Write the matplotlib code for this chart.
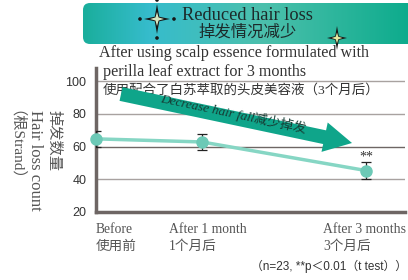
import numpy as np
import matplotlib
matplotlib.use("Agg")
import matplotlib.pyplot as plt
from matplotlib.colors import LinearSegmentedColormap
from matplotlib.patches import FancyBboxPatch, FancyArrow, Polygon, Circle

# data
x_pos = [0, 1, 2.55]
labels = ["Before\n使用前", "After 1 month\n1个月后", "After 3 months\n3个月后"]
hair_loss = [64.7, 62.8, 45.3]
errors = [5.0, 4.9, 5.0]
y_ticks = [20, 40, 60, 80, 100]

SERIF = ["Liberation Serif", "Noto Sans CJK SC"]
SANS = ["Liberation Sans", "Noto Sans CJK SC"]
W, H = 408, 280

fig = plt.figure(figsize=(W / 100, H / 100), dpi=100)
fig.patch.set_facecolor("white")

# main plot, pixel box: x 96..405, y 68..212
ax = fig.add_axes([96 / W, 1 - 212 / H, 309 / W, 144 / H])
ax.set_xlim(0, 2.915)
ax.set_ylim(20, 108)
for s in ["top", "right"]:
    ax.spines[s].set_visible(False)
for s in ["left", "bottom"]:
    ax.spines[s].set_color("#6e6664")
    ax.spines[s].set_linewidth(2.5)
ax.set_yticks(y_ticks)
ax.set_yticklabels([str(v) for v in y_ticks], family=SANS, fontsize=9, color="#333333")
ax.tick_params(axis="y", length=0, pad=7)
ax.set_xticks([])
for v in [40, 80, 100]:
    ax.axhline(v, color="#a8a2a0", lw=1.0, zorder=1)
ax.axhline(60, color="#6e6664", lw=1.0, zorder=1)

ax.plot(x_pos, hair_loss, color="#86d6c4", lw=2.5, zorder=3)
ax.errorbar(x_pos, hair_loss, yerr=errors, fmt="none", ecolor="#222222",
            elinewidth=0.9, capsize=3.5, capthick=0.9, zorder=4)
ax.plot(x_pos, hair_loss, "o", ms=8, color="#6cc9b6", zorder=5, clip_on=False)
ax.text(x_pos[2], hair_loss[2] + errors[2] + 3.5, "**", ha="center", va="center",
        family=SERIF, fontsize=10, color="#333333")

label_shift = [0, 4, -1]
for i, (xp, lab) in enumerate(zip(x_pos, labels)):
    ax.annotate(lab, (xp, -0.075), xycoords=ax.get_xaxis_transform(),
                xytext=(label_shift[i], 0), textcoords="offset points",
                ha="left" if i == 0 else "center", va="top", multialignment="left",
                family=SERIF, fontsize=9.8, color="#555555", linespacing=1.4)

# decoration layer in pixel coordinates
deco = fig.add_axes([0, 0, 1, 1], facecolor="none")
deco.set_zorder(2)
deco.axis("off")

# gradient banner
cmap = LinearSegmentedColormap.from_list(
    "banner", [(0, "#1aae9c"), (0.2, "#36bccc"), (0.55, "#4cc0ac"), (1, "#0cab8c")])
grad = np.linspace(0, 1, 256).reshape(1, -1)
img = deco.imshow(grad, cmap=cmap, extent=[83, 412, 44, 3], aspect="auto", zorder=1)
box = FancyBboxPatch((83, 3), 340, 41, boxstyle="round,pad=0,rounding_size=7",
                     facecolor="none", edgecolor="none", transform=deco.transData)
deco.add_patch(box)
img.set_clip_path(box)
deco.set_xlim(0, W)
deco.set_ylim(H, 0)


def star(cx, cy, rx, ry, r_in, fc):
    pts = []
    for k in range(8):
        a = np.pi / 4 * k
        if k % 2 == 0:
            pts.append((cx + rx * np.cos(a), cy + ry * np.sin(a)))
        else:
            pts.append((cx + r_in * np.cos(a), cy + r_in * np.sin(a)))
    deco.add_patch(Polygon(pts, closed=True, facecolor=fc, edgecolor="none", zorder=3))


star(157, 19, 13, 15, 3.2, "#151515")
star(157, 19, 7, 7, 2.2, "#d6e6c0")
for dx, dy in [(-17, 0), (17, 0), (0, -19), (0, 19)]:
    deco.add_patch(Circle((157 + dx, 19 + dy), 1.1, color="#151515", zorder=3))
star(337, 38, 10, 12, 2.6, "#151515")
star(337, 38, 5.5, 5.5, 1.8, "#e4eaa0")

deco.text(247, 16, "Reduced hair loss", ha="center", va="center",
          family=SERIF, fontsize=13.2, color="#1c2a2a", zorder=4)
deco.text(248, 33, "掉发情况减少", ha="center", va="center",
          family=SERIF, fontsize=11.8, color="#1c2a2a", zorder=4)

deco.text(99, 53, "After using scalp essence formulated with", ha="left", va="center",
          family=SERIF, fontsize=11.6, color="#333333")
deco.text(103, 72, "perilla leaf extract for 3 months", ha="left", va="center",
          family=SERIF, fontsize=11.6, color="#333333")
deco.text(103, 90, "使用配合了白苏萃取的头皮美容液（3个月后）", ha="left", va="center",
          family=SERIF, fontsize=9.7, color="#333333")

# trend arrow
deco.add_patch(FancyArrow(121, 94, 231, 49, width=14, head_width=30, head_length=28,
                          length_includes_head=True, facecolor="#0fa58a",
                          edgecolor="none", zorder=3))
deco.text(233, 114, "Decrease hair fall减少掉发", ha="center", va="center",
          rotation=-12, rotation_mode="anchor", family=SERIF, style="italic",
          fontsize=9.5, color="#163c34", zorder=4)

# y-axis titles
deco.text(54, 110, "掉发数量", rotation=-90, ha="center", va="top",
          family=SERIF, fontsize=11, color="#555555")
deco.text(35, 110, "Hair loss count", rotation=-90, ha="center", va="top",
          family=SERIF, fontsize=12, color="#555555")
deco.text(8, 110, "（根Strand）", rotation=-90, ha="center", va="top",
          family=SERIF, fontsize=11, color="#555555")

deco.text(407, 266, "（n=23, **p＜0.01（t test））", ha="right", va="center",
          family=SANS, fontsize=8.5, color="#333333")

fig.savefig("out.png", dpi=100)
